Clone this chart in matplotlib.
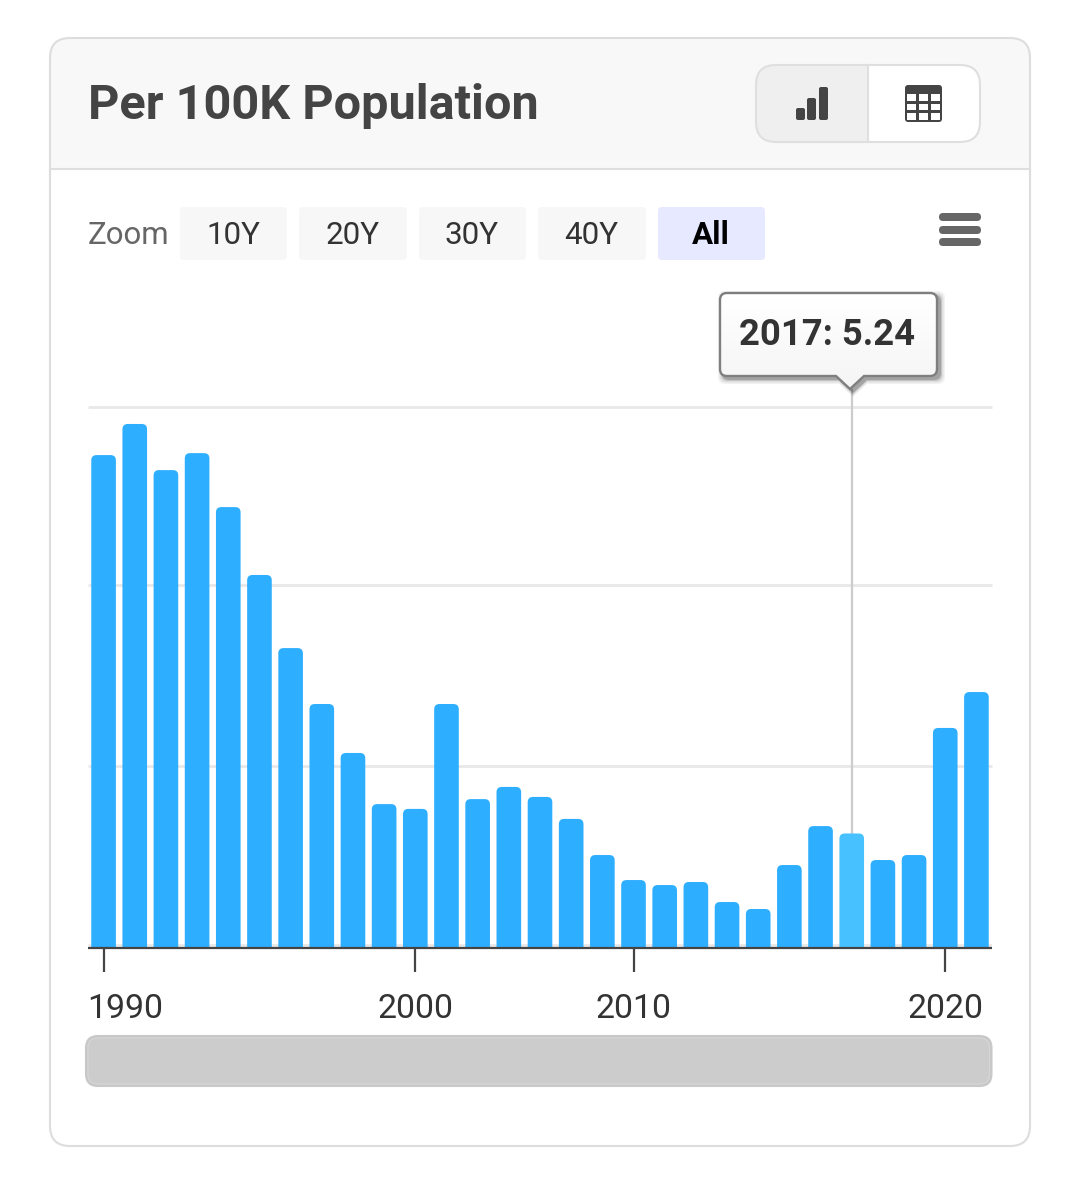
import matplotlib
matplotlib.use('Agg')
import numpy as np
import matplotlib.pyplot as plt
from matplotlib.patches import FancyBboxPatch, Rectangle, PathPatch
from matplotlib.path import Path
from matplotlib.transforms import ScaledTranslation

# years with data (three years between 2000 and 2010 are not in the series)
years = [1990, 1991, 1992, 1993, 1994, 1995, 1996, 1997, 1998, 1999, 2000,
         2001, 2002, 2003, 2004, 2005, 2008, 2010, 2011, 2012, 2013, 2014,
         2015, 2016, 2017, 2018, 2019, 2020, 2021]
values = [22.63, 24.06, 21.94, 22.72, 20.24, 17.12, 13.76, 11.19, 8.94, 6.59, 6.37,
          11.19, 6.82, 7.38, 6.92, 5.91, 4.25, 3.10, 2.87, 3.01, 2.09, 1.77, 3.79,
          5.58, 5.24, 4.02, 4.25, 10.09, 11.74]
grid_values = [8.32, 16.64, 24.84]
tick_years = [1990, 2000, 2010, 2020]
zoom_labels = ['10Y', '20Y', '30Y', '40Y', 'All']
selected_year = 2017
title = 'Per 100K Population'

W, H = 1080, 1182
FONT = 'Roboto'
plt.rcParams['font.family'] = [FONT, 'DejaVu Sans']

fig = plt.figure(figsize=(W / 100, H / 100), dpi=100, facecolor='white')


def pixel_axes(z):
    a = fig.add_axes([0, 0, 1, 1], zorder=z)
    a.set_xlim(0, W)
    a.set_ylim(H, 0)
    a.axis('off')
    a.patch.set_alpha(0)
    return a


def rbox(a, x0, y0, x1, y1, r, fc='none', ec='none', lw=0, z=1):
    p = FancyBboxPatch((x0, y0), x1 - x0, y1 - y0, boxstyle=f'round,pad=0,rounding_size={r}',
                       fc=fc, ec=ec, lw=lw, zorder=z)
    a.add_patch(p)
    return p


# page furniture
bg = pixel_axes(0)
card = rbox(bg, 50, 38, 1030, 1146, 20, fc='white')
head = Rectangle((50, 38), 980, 131, fc='#f8f8f8', ec='none', zorder=2)
bg.add_patch(head)
head.set_clip_path(card)
bg.plot([50, 1030], [169, 169], color='#dfdfdf', lw=1.5, zorder=3)
rbox(bg, 50, 38, 1030, 1146, 20, ec='#dddddd', lw=1.5, z=4)
bg.text(87.5, 119, title, fontsize=35, fontweight='bold', color='#444444', zorder=5)

# chart / table switch
sw = rbox(bg, 756, 65, 980, 142, 20, fc='white', z=3)
left = Rectangle((756, 65), 112, 77, fc='#efefef', ec='none', zorder=4)
bg.add_patch(left)
left.set_clip_path(sw)
rbox(bg, 756, 65, 980, 142, 20, ec='#dfdfdf', lw=1.5, z=5)
bg.plot([868, 868], [65, 142], color='#dfdfdf', lw=1.5, zorder=5)
for x0, y0 in [(796, 108), (807, 98), (819, 87)]:
    rbox(bg, x0, y0, x0 + 9, 120, 2, fc='#444444', z=6)
rbox(bg, 905, 85, 942, 122, 3, fc='#444444', z=6)
for cx in [907.3, 919, 930.8]:
    for cy in [94.3, 103.8, 113]:
        bg.add_patch(Rectangle((cx, cy), 9, 6.7, fc='white', ec='none', zorder=7))

# zoom row
bg.text(88, 244.5, 'Zoom', fontsize=22.5, color='#666666', zorder=5)
button_x = [(180, 287), (299, 407), (419, 526), (538, 646), (658, 765)]
for (x0, x1), lab in zip(button_x, zoom_labels):
    active = lab == 'All'
    rbox(bg, x0, 207, x1, 260, 4, fc='#e6e9ff' if active else '#f7f7f7', z=3)
    bg.text((x0 + x1) / 2 - 0.5, 244, lab, fontsize=22.6, ha='center', zorder=5,
            color='black' if active else '#333333', fontweight='bold' if active else 'normal')
for y0 in [213, 226, 238]:
    rbox(bg, 939, y0, 981, y0 + 8, 4, fc='#666666', z=5)

# navigator bar
rbox(bg, 86, 1036, 991.5, 1086, 12, fc='#cccccc', ec='#c8c8c8', lw=1.5, z=3)
rbox(bg, 88, 1038, 989.5, 1084, 10, ec='#d6d6d6', lw=0.8, z=4)

# the chart itself
ax = fig.add_axes([88 / W, 1 - 947.5 / H, 904 / W, 540.5 / H], zorder=1)
ax.patch.set_alpha(0)
positions = list(range(len(values)))
ax.set_xlim(-0.5, len(values) - 0.5)
ax.set_ylim(0, grid_values[-1])

px_x = 904 / len(values)
px_y = 540.5 / grid_values[-1]
bar_w = 0.79
for pos, yr, val in zip(positions, years, values):
    color = '#47c1ff' if yr == selected_year else '#2eaeff'
    bar = FancyBboxPatch((pos - bar_w / 2, -1), bar_w, val + 1,
                         boxstyle='round,pad=0,rounding_size=0.17',
                         mutation_aspect=px_x / px_y, fc=color, ec='none', zorder=3)
    ax.add_patch(bar)

ax.vlines(years.index(selected_year), 0, 25.67, color='#cccccc', lw=1.6, zorder=2, clip_on=False)

for s in ['top', 'left', 'right']:
    ax.spines[s].set_visible(False)
ax.spines['bottom'].set_color('#444444')
ax.spines['bottom'].set_linewidth(1.6)
ax.spines['bottom'].set_capstyle('butt')
ax.spines['bottom'].set_zorder(5)
ax.set_axisbelow(True)
ax.set_yticks(grid_values)
ax.set_yticklabels([])
ax.tick_params(axis='y', length=0)
ax.grid(axis='y', color='#e8e8e8', lw=2, clip_on=False, solid_capstyle='butt')
ax.axhline(0.1, color='#e8e8e8', lw=2, zorder=1, solid_capstyle='butt')
ax.set_xticks([years.index(y) for y in tick_years])
ax.set_xticklabels([str(y) for y in tick_years], fontsize=24.4, color='#333333')
ax.tick_params(axis='x', length=17.3, width=1.6, color='#444444', pad=15.5)
# first label is pushed inside the plot area
first = ax.get_xticklabels()[0]
first.set_transform(first.get_transform() + ScaledTranslation(22 / 100, 0, fig.dpi_scale_trans))

# tooltip
tip = pixel_axes(2)


def tip_path(dx=0, dy=0, grow=0):
    x0, x1, y0, y1 = 720 - grow + dx, 937 + grow + dx, 293 - grow + dy, 376 + grow + dy
    r = 7
    ax_, ay_, hw = 850 + dx, 389 + grow + dy, 14
    verts = [(x0 + r, y0), (x1 - r, y0), (x1, y0), (x1, y0 + r), (x1, y1 - r), (x1, y1), (x1 - r, y1),
             (ax_ + hw, y1), (ax_, ay_), (ax_ - hw, y1), (x0 + r, y1), (x0, y1), (x0, y1 - r),
             (x0, y0 + r), (x0, y0), (x0 + r, y0), (x0 + r, y0)]
    codes = [Path.MOVETO, Path.LINETO, Path.CURVE3, Path.CURVE3, Path.LINETO, Path.CURVE3, Path.CURVE3,
             Path.LINETO, Path.LINETO, Path.LINETO, Path.LINETO, Path.CURVE3, Path.CURVE3,
             Path.LINETO, Path.CURVE3, Path.CURVE3, Path.CLOSEPOLY]
    return Path(verts, codes)


for g, alpha in [(5, 0.05), (3.5, 0.08), (2, 0.12), (1, 0.16)]:
    tip.add_patch(PathPatch(tip_path(3, 3, g), fc='black', ec='none', alpha=alpha, zorder=1))
# white to light grey fill, clipped to the tooltip shape
outline = PathPatch(tip_path(), fc='#f9f9f9', ec='none', zorder=2)
tip.add_patch(outline)
shade = tip.imshow(np.linspace(1.0, 0.955, 50).reshape(-1, 1), cmap='gray', vmin=0, vmax=1,
                   extent=(715, 942, 390, 290), aspect='auto', zorder=2.1)
shade.set_clip_path(outline)
tip.set_xlim(0, W)
tip.set_ylim(H, 0)
tip.add_patch(PathPatch(tip_path(), fc='none', ec='#7f7f7f', lw=1.7, zorder=2.2))
idx = years.index(selected_year)
tip.text(827, 345, f'{selected_year}: {values[idx]:.2f}', fontsize=26.2, fontweight='bold',
         color='#333333', ha='center', zorder=3)

fig.savefig('out.png', dpi=100)
